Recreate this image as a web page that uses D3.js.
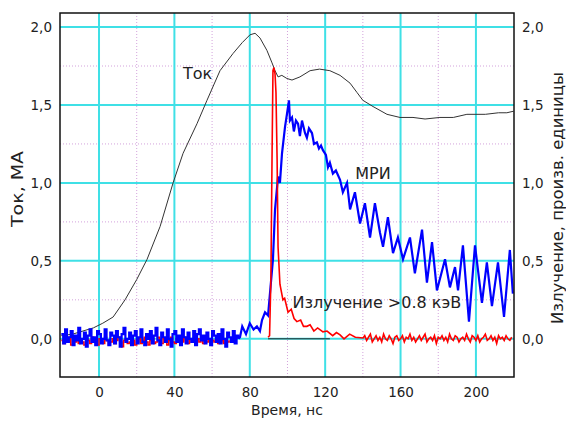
<!DOCTYPE html>
<html>
<head>
<meta charset="utf-8">
<script src="https://cdn.jsdelivr.net/npm/d3@7"></script>
<style>
  html, body { margin: 0; padding: 0; background: #fff; }
  svg { display: block; }
  text { font-family: "DejaVu Sans", Verdana, sans-serif; fill: #222; }
</style>
</head>
<body>
<svg id="chart" width="566" height="421"></svg>
<script>
// ---------------- DATA ----------------
const xTicks = [0, 40, 80, 120, 160, 200];
const xMinor = [20, 60, 100, 140, 180];
const yTicks = [0, 0.5, 1.0, 1.5, 2.0];
const yMinor = [0.25, 0.75, 1.25, 1.75];

// Current (Ток), MA
const tokT = [-20, -14, -8.5, -3, 2, 7.5, 13.8, 20, 25.5, 32.4, 39.3, 44.6, 52, 57.3, 64.2, 71.1, 76, 80.1, 82.8, 85.4, 89.1, 91.8, 93.4, 95, 97, 99.7, 102.4, 106.6, 112, 117, 122.5, 127.9, 133.2, 136.9, 140, 145.4, 152.8, 159.7, 166.6, 173, 180.9, 188, 195.2, 205, 212, 216.4, 220];
const tokV = [0.02, 0.03, 0.05, 0.07, 0.10, 0.14, 0.25, 0.38, 0.51, 0.72, 1.00, 1.19, 1.38, 1.53, 1.72, 1.83, 1.90, 1.95, 1.96, 1.93, 1.85, 1.77, 1.72, 1.68, 1.69, 1.67, 1.66, 1.68, 1.72, 1.73, 1.72, 1.69, 1.64, 1.58, 1.53, 1.49, 1.44, 1.42, 1.42, 1.41, 1.42, 1.42, 1.44, 1.44, 1.45, 1.45, 1.46];

// МРИ (blue) – baseline noise sampled every 1 ns from -20 ns
const mriBaseStart = -20;
const mriBaseV = [0.03,-0.03,0.06,-0.02,0.01,0.05,-0.04,0.02,-0.01,0.07,-0.03,0.00,0.04,-0.05,0.02,0.06,-0.02,0.01,-0.04,0.05,
  0.03,-0.03,0.00,0.06,-0.01,-0.04,0.04,0.02,-0.03,0.05,0.01,-0.05,0.03,0.07,-0.02,0.00,0.04,-0.04,0.02,0.05,
  -0.03,0.01,0.06,-0.02,-0.04,0.03,0.00,0.05,-0.03,0.02,0.07,-0.01,-0.04,0.04,0.01,-0.02,0.06,0.00,-0.05,0.03,
  0.05,-0.02,0.02,-0.04,0.06,0.01,-0.03,0.04,0.00,-0.02,0.05,-0.04,0.03,0.06,-0.01,0.02,-0.03,0.04,0.00,-0.04,
  0.05,0.02,-0.02,0.03,-0.03,0.06,0.00,-0.05,0.04,0.01,-0.02,0.05,-0.03,0.02,0.00];
// МРИ – pulse and decaying oscillations
const mriT = [74.8, 76, 78, 80, 82, 83.8, 85.4, 86.5, 88.1, 89.7, 90.7, 92.3, 93.4, 95.0, 96.0, 97.1, 98.7, 99.7, 100.8, 101.3, 102.4, 103.4, 104.5, 105.6, 106.6, 107.7, 109.3, 110.3, 111.4, 113.0, 114.1, 115.6, 116.7, 117.8, 118.8, 120.4, 121.5, 122.5, 124.1, 125.7, 127.9, 129.4, 131.6, 133.2, 135.8, 138.5, 141.1, 143.8, 146.4, 149.1, 150.7, 153.3, 156.0, 158.6, 161.3, 165.0, 167.6, 171.4, 174.0, 176.7, 179.3, 183.6, 186.2, 188.9, 190.5, 193.1, 196.3, 199.5, 203.2, 205.8, 208.5, 211.7, 214.9, 218.0, 219.6];
const mriV = [0.01, 0.08, 0.03, 0.10, 0.06, 0.08, 0.05, 0.12, 0.17, 0.15, 0.29, 0.51, 0.83, 1.04, 1.00, 1.19, 1.36, 1.44, 1.53, 1.40, 1.42, 1.33, 1.40, 1.38, 1.30, 1.40, 1.32, 1.29, 1.35, 1.32, 1.25, 1.26, 1.22, 1.24, 1.21, 1.18, 1.10, 1.13, 1.06, 1.08, 1.02, 0.94, 1.00, 0.83, 0.94, 0.74, 0.87, 0.65, 0.87, 0.68, 0.59, 0.78, 0.55, 0.65, 0.51, 0.65, 0.42, 0.70, 0.36, 0.62, 0.31, 0.51, 0.33, 0.46, 0.31, 0.60, 0.11, 0.60, 0.23, 0.49, 0.21, 0.49, 0.14, 0.57, 0.29];

// Излучение > 0.8 кэВ (red) – baseline sampled every 1 ns from -20 ns
const xrBaseStart = -20;
const xrBaseV = [-0.01,-0.03,0.00,-0.02,0.01,-0.04,-0.01,-0.02,0.01,-0.03,0.00,-0.02,-0.04,0.00,-0.01,-0.03,0.01,-0.02,-0.01,-0.04,
  0.00,-0.02,-0.03,0.01,-0.01,-0.04,-0.02,0.00,-0.03,-0.01,0.01,-0.02,-0.05,-0.01,0.00,-0.03,-0.02,0.01,-0.01,-0.04,
  -0.02,0.00,-0.03,-0.01,0.01,-0.02,-0.04,-0.01,0.00,-0.03,-0.02,0.01,-0.01,-0.03,0.00,-0.02,-0.04,-0.01,0.01,-0.02,
  -0.03,0.00,-0.01,-0.04,-0.02,0.01,-0.01,-0.03,0.00,-0.02,-0.01,-0.04,0.00,-0.02,0.01,-0.03,-0.01,-0.02,0.00,-0.03,
  -0.01,-0.02,0.01,-0.03,-0.02,-0.01,-0.03,0.00,-0.02,-0.01];
// red pulse and tail
const xrT = [89.7, 90.5, 91.2, 91.8, 92.3, 92.8, 93.4, 93.9, 94.5, 95.0, 96.0, 97.6, 98.5, 100.3, 102, 103.5, 105.0, 107, 108.5, 110.3, 112, 114, 116, 118.8, 121, 124, 126, 127.9, 130, 133, 136, 140.1];
const xrV = [0.01, 0.02, 0.38, 1.15, 1.72, 1.74, 1.70, 1.58, 1.15, 0.59, 0.35, 0.25, 0.26, 0.17, 0.19, 0.13, 0.11, 0.12, 0.08, 0.08, 0.09, 0.05, 0.07, 0.045, 0.05, 0.02, 0.04, 0.025, 0.00, 0.03, 0.01, 0.005];
const xrTailStart = 141;
const xrTailV = [0.02,-0.01,0.01,0.03,-0.02,0.00,0.02,-0.01,0.01,-0.02,0.03,0.00,-0.01,0.02,0.00,-0.03,0.01,0.02,-0.01,0.00,
  0.02,-0.02,0.01,0.00,0.03,-0.01,0.01,-0.02,0.00,0.02,-0.01,0.01,0.03,-0.02,0.00,0.01,-0.01,0.02,-0.03,0.01,
  0.00,0.02,-0.01,0.01,-0.02,0.03,0.00,-0.01,0.02,0.01,-0.02,0.00,0.01,-0.01,0.03,0.00,-0.02,0.02,0.01,-0.01,
  0.02,-0.02,0.00,0.01,0.03,-0.01,0.00,0.02,-0.01,0.01,-0.03,0.02,0.00,0.01,-0.01,0.02,0.00,-0.01,0.01];

// thin black zero segment
const zeroSegT = [89.7, 122.5];

const labels = { tok: "Ток", mri: "МРИ", xr: "Излучение >0.8 кэВ" };

// ---------------- LAYOUT ----------------
const L = 60, R = 514, T = 13, B = 377;
const svg = d3.select("#chart");
const x = d3.scaleLinear().domain([-20.7, 220.2]).range([L, R]);
const y = d3.scaleLinear().domain([-0.245, 2.09]).range([B, T]);
const fmt = v => d3.format(".1f")(v).replace(".", ",");

const CYAN = "#3fe0e6", DOT = "#d3a2dc";
const FONT = "DejaVu Sans, Verdana, sans-serif";

svg.append("defs").append("clipPath").attr("id", "clip")
  .append("rect").attr("x", L).attr("y", T).attr("width", R - L).attr("height", B - T);

// minor dotted grid
const g = svg.append("g");
g.selectAll(".vmin").data(xMinor).join("line")
  .attr("x1", d => x(d)).attr("x2", d => x(d)).attr("y1", T).attr("y2", B)
  .attr("stroke", DOT).attr("stroke-width", 1).attr("stroke-dasharray", "1,2");
g.selectAll(".hmin").data(yMinor).join("line")
  .attr("y1", d => y(d)).attr("y2", d => y(d)).attr("x1", L).attr("x2", R)
  .attr("stroke", DOT).attr("stroke-width", 1).attr("stroke-dasharray", "1,2");
// major grid
g.selectAll(".vmaj").data(xTicks).join("line")
  .attr("x1", d => x(d)).attr("x2", d => x(d)).attr("y1", T).attr("y2", B)
  .attr("stroke", CYAN).attr("stroke-width", 2);
g.selectAll(".hmaj").data(yTicks).join("line")
  .attr("y1", d => y(d)).attr("y2", d => y(d)).attr("x1", L).attr("x2", R)
  .attr("stroke", CYAN).attr("stroke-width", 2);

// series
const plot = svg.append("g").attr("clip-path", "url(#clip)");
const mriBase = mriBaseV.map((v, i) => [mriBaseStart + i, v]);
const mriPts = mriBase.concat(mriT.map((t, i) => [t, mriV[i]]));
const xrPts = xrBaseV.map((v, i) => [xrBaseStart + i, v])
  .concat(xrT.map((t, i) => [t, xrV[i]]))
  .concat(xrTailV.map((v, i) => [xrTailStart + i, v]));
const tokPts = tokT.map((t, i) => [t, tokV[i]]);

const line = d3.line().x(d => x(d[0])).y(d => y(d[1]));
const stepLine = d3.line().x(d => x(d[0])).y(d => y(d[1])).curve(d3.curveStepAfter);

plot.append("path").datum(tokPts).attr("d", line)
  .attr("fill", "none").attr("stroke", "#333").attr("stroke-width", 1);
plot.append("path").datum(xrPts.filter(d => d[0] < 89.7)).attr("d", stepLine)
  .attr("fill", "none").attr("stroke", "#ff0000").attr("stroke-width", 1.6);
plot.append("path").datum(mriBase).attr("d", stepLine)
  .attr("fill", "none").attr("stroke", "#0000ff").attr("stroke-width", 2.2);
plot.append("path").datum(mriPts.filter(d => d[0] >= 74)).attr("d", line)
  .attr("fill", "none").attr("stroke", "#0000ff").attr("stroke-width", 2.2);
plot.append("line")
  .attr("x1", x(zeroSegT[0])).attr("x2", x(zeroSegT[1])).attr("y1", y(0)).attr("y2", y(0))
  .attr("stroke", "#222").attr("stroke-width", 1);
plot.append("path").datum(xrPts.filter(d => d[0] >= 89)).attr("d", line)
  .attr("fill", "none").attr("stroke", "#ff0000").attr("stroke-width", 1.6);

// frame
svg.append("rect").attr("x", L).attr("y", T).attr("width", R - L).attr("height", B - T)
  .attr("fill", "none").attr("stroke", "#111").attr("stroke-width", 1.5);

// axes labels
const axL = svg.append("g").attr("transform", `translate(${L},0)`)
  .call(d3.axisLeft(y).tickValues(yTicks).tickSize(0).tickPadding(8).tickFormat(fmt));
const axR = svg.append("g").attr("transform", `translate(${R},0)`)
  .call(d3.axisRight(y).tickValues(yTicks).tickSize(0).tickPadding(8).tickFormat(fmt));
const axB = svg.append("g").attr("transform", `translate(0,${B})`)
  .call(d3.axisBottom(x).tickValues(xTicks).tickSize(0).tickPadding(10));
[axL, axR, axB].forEach(a => {
  a.select(".domain").remove();
  a.selectAll("text").attr("font-size", 13.5).attr("font-family", FONT).attr("fill", "#222");
});

svg.append("text").attr("x", (L + R) / 2).attr("y", 415).attr("text-anchor", "middle")
  .attr("font-size", 14).text("Время, нс");
svg.append("text").attr("transform", "translate(23,189) rotate(-90)").attr("text-anchor", "middle")
  .attr("font-size", 15).attr("textLength", 76).attr("lengthAdjust", "spacingAndGlyphs").text("Ток, МА");
svg.append("text").attr("transform", "translate(563,198) rotate(-90)").attr("text-anchor", "middle")
  .attr("font-size", 15).attr("textLength", 252).attr("lengthAdjust", "spacingAndGlyphs").text("Излучение, произв. единицы");

// in-plot labels
svg.append("text").attr("x", x(44.5)).attr("y", y(1.7) + 5).attr("font-size", 16).text(labels.tok);
svg.append("text").attr("x", x(136)).attr("y", y(1.06) + 5).attr("font-size", 16).text(labels.mri);
svg.append("text").attr("x", x(102.7)).attr("y", y(0.23) + 5).attr("font-size", 16).text(labels.xr);
</script>
</body>
</html>
